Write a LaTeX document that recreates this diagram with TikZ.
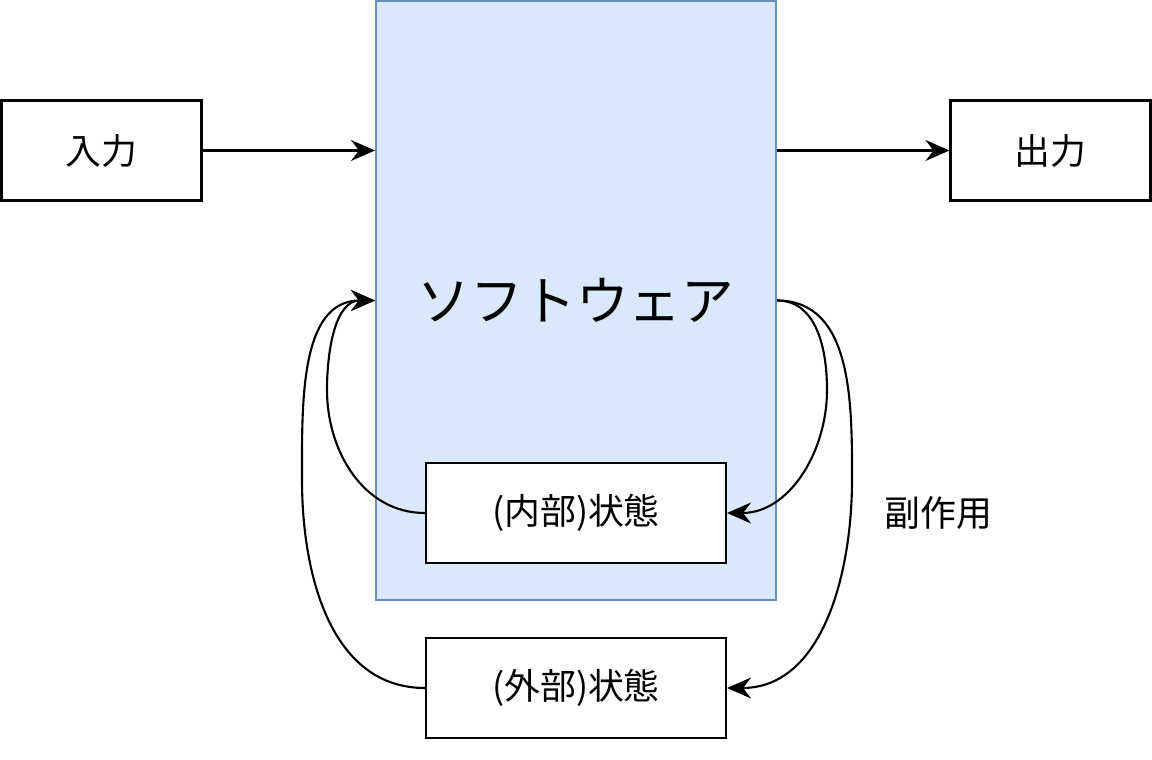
\documentclass[tikz,border=0pt]{standalone}
\usepackage{fontspec}
\setmainfont{Noto Sans CJK JP}
\usetikzlibrary{arrows.meta}
\definecolor{softfill}{HTML}{DAE8FC}
\definecolor{softline}{HTML}{6C8EBF}

\begin{document}
\begin{tikzpicture}[x=1cm,y=1cm,
  box/.style={draw,fill=white,line width=0.6pt,minimum width=2cm,minimum height=1cm,inner sep=0pt,font=\fontsize{10.2}{12}\selectfont},
  flow/.style={-{Stealth[length=0.24cm,width=0.21cm,inset=0.08cm]},line width=0.6pt}]
\useasboundingbox (0,0) rectangle (11.52,7.59);

\node[draw=softline,fill=softfill,line width=0.6pt,minimum width=4cm,minimum height=5.99cm,font=\fontsize{15}{18}\selectfont] (soft) at (5.76,4.585) {ソフトウェア};
\node[box] (input) at (1.015,6.085) {入力};
\node[box] (output) at (10.505,6.085) {出力};
\node[box,minimum width=3cm] (inner) at (5.76,2.46) {(内部)状態};
\node[box,minimum width=3cm] (outer) at (5.76,0.71) {(外部)状態};
\node[font=\fontsize{10.2}{12}\selectfont] (side) at (9.385,2.46) {副作用};

\coordinate (lin) at (3.27,3.69);
\coordinate (lout) at (3.02,2.79);
\coordinate (rin) at (8.27,3.69);
\coordinate (rout) at (8.52,2.79);

\draw[flow] (input) -- (soft.west |- input);
\draw[flow] (soft.east |- output) -- (output);

\draw[flow] (inner.west) to[out=180,in=-90] (lin) to[out=90,in=180] (soft.west);
\draw[flow] (outer.west) to[out=180,in=-90] (lout) to[out=90,in=180] (soft.west);
\draw[flow] (soft.east) to[out=0,in=90] (rin) to[out=-90,in=0] (inner.east);
\draw[flow] (soft.east) to[out=0,in=90] (rout) to[out=-90,in=0] (outer.east);
\end{tikzpicture}
\end{document}
